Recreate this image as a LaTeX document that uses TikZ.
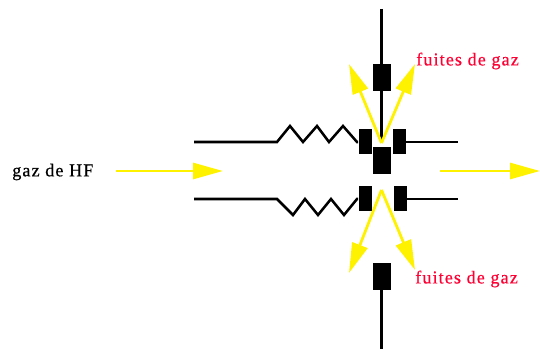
\documentclass[tikz,border=0pt]{standalone}
\usepackage{fontspec}
\setmainfont[LetterSpace=6,FakeBold=0.5]{Liberation Serif}
\definecolor{fuite}{rgb}{1.0,0.0,0.2}
\usetikzlibrary{arrows.meta,positioning}
\tikzset{
	joint/.style={draw=none, fill=black, rectangle, inner sep=0pt, minimum width=13pt*0.75, minimum height=25pt*0.75},
	bloc/.style={draw=none, fill=black, rectangle, inner sep=0pt, minimum width=18pt*0.75, minimum height=27pt*0.75},
	wire/.style={line width=1.9pt, black},
	gas/.style={line width=2.1pt, yellow, -{Triangle[length=22.5pt,width=12pt]}},
	label/.style={inner sep=0pt, font=\fontsize{13.6}{13.6}\selectfont}
}
\begin{document}
\begin{tikzpicture}[x=0.75pt,y=-0.75pt]
  \useasboundingbox (0,0) rectangle (540,349);
  % haut
  \node[joint] (JH1) at (365,142) {};
  \node[joint] (JH2) at (399.5,142) {};
  \node[bloc]  (BH)  at (381.5,77.5) {};
  \node[bloc]  (BC)  at (381.5,160.5) {};
  % bas
  \node[joint] (JB1) at (365,199) {};
  \node[joint] (JB2) at (400,199) {};
  \node[bloc]  (BB)  at (381.5,276.5) {};
  % bouts libres
  \coordinate (TH) at (381.5,9);
  \coordinate (TB) at (381.5,349);
  \coordinate (GH) at (194,142);
  \coordinate (GB) at (194,199);
  \coordinate (DH) at (458,142);
  \coordinate (DB) at (458,199);
  \coordinate (RH) at (277,142);
  \coordinate (RB) at (277,199);
  \coordinate (AH) at (381.5,143);
  \coordinate (AB) at (381.5,190);
  \coordinate (H1) at (349,64);
  \coordinate (H2) at (415,64);
  \coordinate (B1) at (349,273);
  \coordinate (B2) at (415,270);
  \coordinate (E1) at (116,171);
  \coordinate (E2) at (223,171);
  \coordinate (S1) at (440,171);
  \coordinate (S2) at (540,171);
  \draw[wire] (TH) -- (AH);
  \draw[wire] (BB) -- (TB);
  \draw[wire] (JH2) -- (DH);
  \draw[wire] (JB2) -- (DB);
  % ressorts
  \draw[wire] (GH) -- (RH) -- ++(13,-16) -- ++(13,16) -- ++(14,-16) -- ++(12,16) -- ++(14,-16) -- ++(14,16) -- (JH1.west);
  \draw[wire] (GB) -- (RB) -- ++(16,16) -- ++(12,-16) -- ++(13,16) -- ++(13,-16) -- ++(13,16) -- ++(13,-16) -- (JB1.west);
  % gaz
  \draw[gas] (E1) -- (E2);
  \draw[gas] (S1) -- (S2);
  \draw[gas] (AH) -- (H1);
  \draw[gas] (AH) -- (H2);
  \draw[gas] (AB) -- (B1);
  \draw[gas] (AB) -- (B2);
  \node[label, anchor=west] (gaz) at (12,172) {gaz de HF};
  \node[label, anchor=west, text=fuite] (fh) at (416,61) {fuites de gaz};
  \node[label, anchor=west, text=fuite] (fb) at (415,279) {fuites de gaz};
\end{tikzpicture}
\end{document}
